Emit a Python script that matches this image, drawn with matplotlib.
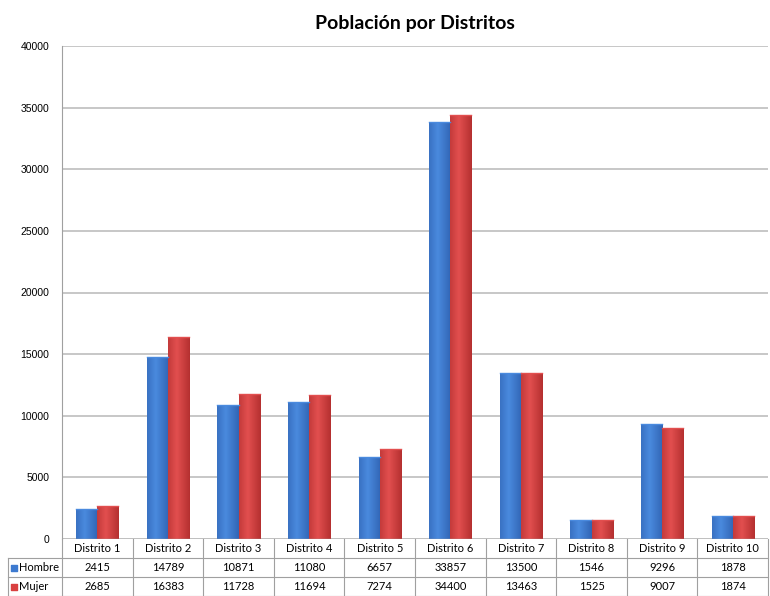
import matplotlib.pyplot as plt
import numpy as np
from matplotlib.transforms import blended_transform_factory
from matplotlib.patches import Rectangle

distritos = ['Distrito 1', 'Distrito 2', 'Distrito 3', 'Distrito 4', 'Distrito 5',
             'Distrito 6', 'Distrito 7', 'Distrito 8', 'Distrito 9', 'Distrito 10']
hombre = [2415, 14789, 10871, 11080, 6657, 33857, 13500, 1546, 9296, 1878]
mujer = [2685, 16383, 11728, 11694, 7274, 34400, 13463, 1525, 9007, 1874]

fig = plt.figure(figsize=(7.7, 5.96), dpi=100, facecolor='white')
ax = fig.add_axes([62 / 770, 57 / 596, 706 / 770, 493 / 596])

blue = '#3d7ad0'
red = '#d94040'
w = 0.3
x = np.arange(len(distritos))


def grad_bar(x0, h, base, dark, light):
    # bar with a little horizontal shading
    rect = Rectangle((x0, 0), w, h, facecolor=base, edgecolor='none', zorder=3)
    ax.add_patch(rect)
    cols = np.linspace(0, 1, 50)
    shade = np.clip(1 - np.abs(cols - 0.4) / 0.7, 0, 1)
    c0 = np.array(plt.matplotlib.colors.to_rgb(dark))
    c1 = np.array(plt.matplotlib.colors.to_rgb(light))
    img = (c0[None, :] * (1 - shade[:, None]) + c1[None, :] * shade[:, None])[None, :, :]
    im = ax.imshow(img, extent=(x0, x0 + w, 0, h), aspect='auto', zorder=3,
                   interpolation='bilinear')
    im.set_clip_path(rect)
    ax.plot([x0, x0 + w], [h, h], color=light, lw=1, zorder=4)


for i in range(len(distritos)):
    grad_bar(x[i] - w, hombre[i], blue, '#2d5fae', '#4a8ade')
    grad_bar(x[i], mujer[i], red, '#ad2b2b', '#e24f4f')

ax.set_xlim(-0.5, len(distritos) - 0.5)
ax.set_ylim(0, 40000)
ax.set_yticks(range(0, 40001, 5000))
ax.yaxis.grid(True, color='#bdbdbd', lw=1.2)
ax.set_axisbelow(True)
ax.tick_params(axis='y', length=0, labelsize=7.5, pad=9)
for lab in ax.get_yticklabels():
    lab.set_family('Liberation Sans')
ax.set_xticks([])
for s in ['top', 'right', 'bottom']:
    ax.spines[s].set_visible(False)
ax.spines['left'].set_color('#a0a0a0')
ax.axhline(0, color='#a0a0a0', lw=1, zorder=5)

ax.set_title('Población por Distritos', fontsize=14, fontweight='bold',
             family='Lato', pad=12)

# data table under the plot
tr = blended_transform_factory(ax.transData, ax.transAxes)
rh = 19 / 493
lc = '#a0a0a0'
for k in range(len(distritos) + 1):
    ax.plot([k - 0.5, k - 0.5], [0, -3 * rh], transform=tr, color=lc, lw=0.8, clip_on=False)
for r in range(1, 4):
    ax.plot([-0.5, len(distritos) - 0.5], [-r * rh, -r * rh], transform=tr, color=lc,
            lw=0.8, clip_on=False)
lx = -0.5 - 54 / 70.6
for r in range(1, 4):
    ax.plot([lx, -0.5], [-r * rh, -r * rh], transform=tr, color=lc, lw=0.8, clip_on=False)
ax.plot([lx, lx], [-rh, -3 * rh], transform=tr, color=lc, lw=0.8, clip_on=False)

tf = dict(transform=tr, ha='center', va='center', fontsize=8, family='Lato',
          clip_on=False)
for i, d in enumerate(distritos):
    ax.text(i, -0.5 * rh, d, **tf)
    ax.text(i, -1.5 * rh, str(hombre[i]), **tf)
    ax.text(i, -2.5 * rh, str(mujer[i]), **tf)

for r, (name, c) in enumerate([('Hombre', blue), ('Mujer', red)]):
    yy = -(1.5 + r) * rh
    ax.scatter([lx + 0.085], [yy], marker='s', s=24, color=c, transform=tr, clip_on=False,
               zorder=6)
    ax.text(lx + 0.15, yy, name, transform=tr, ha='left', va='center', fontsize=8,
            family='Lato', clip_on=False)

fig.savefig('out.png', dpi=100, facecolor='white')
